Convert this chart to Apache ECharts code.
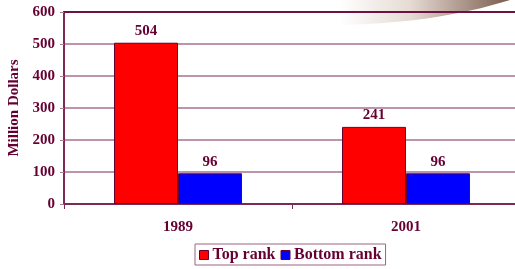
<!DOCTYPE html>
<html>
<head>
<meta charset="utf-8">
<script src="https://cdn.jsdelivr.net/npm/echarts@6/dist/echarts.min.js"></script>
<style>
    html, body { margin: 0; padding: 0; background: #fff; }
    #chart { width: 515px; height: 269px; }
</style>
</head>
<body>
<div id="chart"></div>
<script>
// data
var years = ['1989', '2001'];
var topRank = [504, 241];
var bottomRank = [96, 96];

var textColor = '#660033';
var font = '"Liberation Serif", "Times New Roman", serif';

function barChart() {
    var myChart = echarts.init(document.getElementById('chart'));
    var labelStyle = {
        show: true,
        position: 'top',
        distance: 4,
        color: textColor,
        fontFamily: font,
        fontWeight: 'bold',
        fontSize: 15
    };
    var option = {
        animation: false,
        backgroundColor: '#fff',
        graphic: [
            {
                // decorative swoosh top right
                type: 'ellipse',
                z: -1,
                shape: { cx: 330, cy: -100, rx: 300, ry: 125 },
                style: {
                    fill: new echarts.graphic.LinearGradient(340, 0, 515, 0, [
                        { offset: 0, color: 'rgba(255,255,255,1)' },
                        { offset: 0.4, color: '#e6dbd4' },
                        { offset: 1, color: '#765446' }
                    ], true)
                }
            }
        ],
        grid: {
            left: 64,
            top: 12,
            width: 456,
            height: 192,
            outerBoundsMode: 'none',
            containLabel: false
        },
        legend: {
            left: 195,
            top: 244,
            padding: [3, 4, 2, 4],
            itemWidth: 9,
            itemHeight: 9,
            itemGap: 5,
            borderColor: '#9c6484',
            borderWidth: 1,
            icon: 'rect',
            itemStyle: { borderColor: '#660033', borderWidth: 1 },
            textStyle: {
                color: textColor,
                fontFamily: font,
                fontWeight: 'bold',
                fontSize: 16,
                padding: [1, 0, 0, -1]
            }
        },
        xAxis: [
            {
                type: 'category',
                data: years,
                axisLine: { lineStyle: { color: '#7a2a55', width: 2 } },
                axisTick: { show: true, length: 5, lineStyle: { color: '#7a2a55' } },
                axisLabel: {
                    margin: 16,
                    color: textColor,
                    fontFamily: font,
                    fontWeight: 'bold',
                    fontSize: 15
                }
            },
            {
                // top border line
                type: 'category',
                position: 'top',
                data: years,
                axisLine: { lineStyle: { color: '#6e1244', width: 2 } },
                axisTick: { show: false },
                axisLabel: { show: false }
            }
        ],
        yAxis: {
            type: 'value',
            min: 0,
            max: 600,
            interval: 100,
            name: 'Million Dollars',
            nameLocation: 'middle',
            nameGap: 41,
            nameTextStyle: {
                color: textColor,
                fontFamily: font,
                fontWeight: 'bold',
                fontSize: 15
            },
            axisLine: { show: true, lineStyle: { color: '#7a2a55', width: 2 } },
            axisTick: { show: true, length: 4, lineStyle: { color: '#b07a96' } },
            axisLabel: {
                margin: 9,
                color: textColor,
                fontFamily: font,
                fontWeight: 'bold',
                fontSize: 15
            },
            splitLine: { lineStyle: { color: '#a8708e', width: 1.5 } }
        },
        series: [
            {
                name: 'Top rank',
                type: 'bar',
                barWidth: 64,
                barGap: '0%',
                itemStyle: { color: '#ff0000', borderColor: '#660033', borderWidth: 1 },
                label: labelStyle,
                data: topRank
            },
            {
                name: 'Bottom rank',
                type: 'bar',
                barWidth: 64,
                barGap: '0%',
                itemStyle: { color: '#0000ff', borderColor: '#660033', borderWidth: 1 },
                label: labelStyle,
                data: bottomRank
            }
        ]
    };
    myChart.setOption(option);
}

barChart();
</script>
</body>
</html>
